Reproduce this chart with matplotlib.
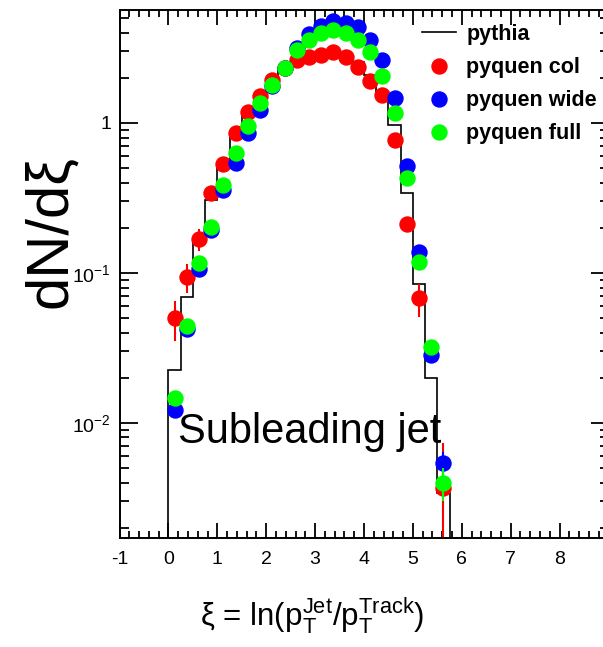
import numpy as np
import matplotlib
matplotlib.use("Agg")
import matplotlib.pyplot as plt
from matplotlib.ticker import MultipleLocator, LogLocator, FixedLocator, FixedFormatter

plt.rcParams["font.family"] = ["Liberation Sans", "DejaVu Sans"]
plt.rcParams["mathtext.fontset"] = "custom"
plt.rcParams["mathtext.rm"] = "Liberation Sans"
plt.rcParams["mathtext.it"] = "Liberation Sans"
plt.rcParams["mathtext.default"] = "regular"
plt.rcParams["axes.unicode_minus"] = False

# bins of xi, width 0.25 from 0 to 5.75
bin_edges = [0.0, 0.25, 0.5, 0.75, 1.0, 1.25, 1.5, 1.75, 2.0, 2.25, 2.5, 2.75,
             3.0, 3.25, 3.5, 3.75, 4.0, 4.25, 4.5, 4.75, 5.0, 5.25, 5.5, 5.75]
bin_centers = [0.125, 0.375, 0.625, 0.875, 1.125, 1.375, 1.625, 1.875, 2.125,
               2.375, 2.625, 2.875, 3.125, 3.375, 3.625, 3.875, 4.125, 4.375,
               4.625, 4.875, 5.125, 5.375, 5.625]

pythia = [0.0226, 0.069, 0.16, 0.307, 0.50, 0.86, 1.18, 1.50, 1.90, 2.25,
          2.55, 2.72, 2.82, 2.85, 2.75, 2.55, 2.10, 1.60, 0.97, 0.34,
          0.0845, 0.020, 0.0034]

pyquen_col = [0.050, 0.094, 0.169, 0.342, 0.533, 0.858, 1.18, 1.51, 1.94,
              2.33, 2.63, 2.75, 2.84, 2.97, 2.75, 2.36, 1.90, 1.54, 0.77,
              0.212, 0.068, np.nan, 0.0037]
pyquen_col_err = [0.015, 0.02, 0.028, 0.03, 0.04, 0.05, 0.06, 0.07, 0.08,
                  0.09, 0.09, 0.09, 0.09, 0.09, 0.09, 0.08, 0.07, 0.06, 0.05,
                  0.02, 0.017, np.nan, 0.0037]

pyquen_wide = [0.0122, 0.042, 0.106, 0.193, 0.358, 0.54, 0.858, 1.22, 1.76,
               2.33, 3.16, 3.90, 4.43, 4.80, 4.64, 4.37, 3.58, 2.63, 1.47,
               0.517, 0.138, 0.0284, 0.0054]
pyquen_wide_err = [0.001, 0.003, 0.005, 0.008, 0.01, 0.015, 0.02, 0.03, 0.04,
                   0.05, 0.06, 0.07, 0.07, 0.08, 0.08, 0.07, 0.06, 0.05, 0.04,
                   0.015, 0.006, 0.002, 0.001]

pyquen_full = [0.0147, 0.044, 0.117, 0.203, 0.386, 0.63, 0.955, 1.36, 1.79,
               2.33, 3.07, 3.58, 3.98, 4.14, 4.00, 3.58, 2.97, 2.07, 1.17,
               0.43, 0.118, 0.032, 0.0040]
pyquen_full_err = [0.001, 0.003, 0.005, 0.008, 0.01, 0.015, 0.02, 0.03, 0.04,
                   0.05, 0.06, 0.07, 0.07, 0.08, 0.08, 0.07, 0.06, 0.05, 0.04,
                   0.012, 0.005, 0.002, 0.001]

W, H = 603, 647
fig = plt.figure(figsize=(W / 100, H / 100), dpi=100)
ax_l, ax_r, ax_t, ax_b = 119.5, 608.5, 9.5, 538.0
ax = fig.add_axes([ax_l / W, 1 - ax_b / H, (ax_r - ax_l) / W, (ax_b - ax_t) / H])

h_py = ax.stairs(pythia, bin_edges, baseline=1e-6, color="black", lw=1.2,
                 label="pythia", zorder=1)
ms = 10.8
h_col = ax.errorbar(bin_centers, pyquen_col, yerr=pyquen_col_err, fmt="o",
                    color="#ff0000", ms=ms, elinewidth=1.5, capsize=0,
                    label="pyquen col", zorder=2)
h_wide = ax.errorbar(bin_centers, pyquen_wide, yerr=pyquen_wide_err, fmt="o",
                     color="#0000ff", ms=ms, elinewidth=1.5, capsize=0,
                     label="pyquen wide", zorder=3)
h_full = ax.errorbar(bin_centers, pyquen_full, yerr=pyquen_full_err, fmt="o",
                     color="#00ff00", ms=ms, elinewidth=1.5, capsize=0,
                     label="pyquen full", zorder=4)

ax.set_yscale("log")
ax.set_xlim(-1, 9)
ax.set_ylim(0.00171, 5.71)

ax.xaxis.set_major_locator(MultipleLocator(1))
ax.xaxis.set_minor_locator(MultipleLocator(0.2))
ax.yaxis.set_major_locator(FixedLocator([0.01, 0.1, 1]))
ax.yaxis.set_major_formatter(FixedFormatter([r"$10^{-2}$", r"$10^{-1}$", "1"]))
ax.yaxis.set_minor_locator(LogLocator(base=10, subs=np.arange(2, 10)))
ax.yaxis.set_minor_formatter(plt.NullFormatter())

ax.tick_params(which="both", direction="in", top=True, right=True, width=1.3)
ax.tick_params(axis="x", which="major", length=11, pad=9, labelsize=14)
ax.tick_params(axis="x", which="minor", length=5)
ax.tick_params(axis="y", which="major", length=13, pad=6, labelsize=14)
ax.tick_params(axis="y", which="minor", length=6.5)
for sp in ax.spines.values():
    sp.set_linewidth(1.4)

ax.text((178 - ax_l) / (ax_r - ax_l), (ax_b - 443) / (ax_b - ax_t),
        "Subleading jet", transform=ax.transAxes, fontsize=30,
        ha="left", va="baseline")

handles = [h_py, h_col[0], h_wide[0], h_full[0]]
labels = ["pythia", "pyquen col", "pyquen wide", "pyquen full"]
leg = ax.legend(handles, labels, loc="upper left",
                bbox_to_anchor=(422 / W, 1 - 24 / H),
                bbox_transform=fig.transFigure, frameon=False, borderpad=0,
                borderaxespad=0, handlelength=1.6, handletextpad=0.45,
                labelspacing=0.56, numpoints=1,
                prop={"weight": "bold", "size": 15.5})

fig.text(50 / W, 1 - 232 / H, "dN/dξ", rotation=90, fontsize=43,
         ha="center", va="center")
fig.text(200 / W, 1 - 625 / H, r"ξ = ln(p$_{T}^{Jet}$/p$_{T}^{Track}$)",
         fontsize=22.5, ha="left", va="baseline")

fig.savefig("out.png", dpi=100)
